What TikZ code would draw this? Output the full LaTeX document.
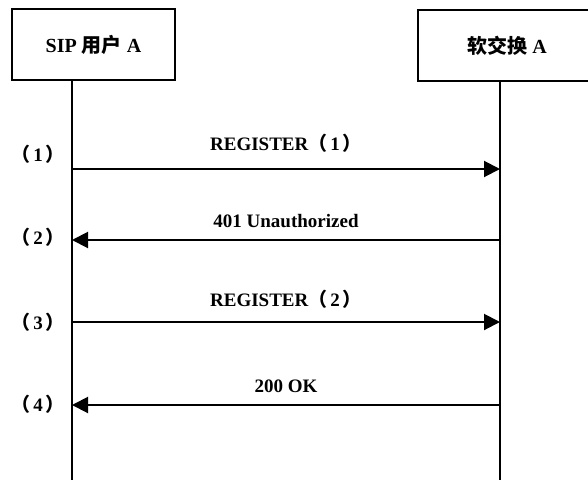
\documentclass[tikz,border=0pt]{standalone}
\usepackage{fontspec}
\setmainfont{Liberation Serif}
\newfontfamily\cjk{Noto Sans CJK SC}
\usetikzlibrary{arrows.meta}
\tikzstyle{line} = [draw, line width=2pt, -{Triangle[length=16pt,width=16pt]}]
\tikzstyle{life} = [draw, line width=1.8pt]
\tikzstyle{party} = [rectangle, draw, line width=2.6pt, minimum height=71pt, font=\fontsize{20}{24}\selectfont\bfseries]
\tikzstyle{msg} = [font=\fontsize{19}{23}\selectfont\bfseries, inner sep=0pt]
\newcommand{\fwp}[1]{{\cjk （}\kern3pt#1\kern3pt{\cjk ）}}

\begin{document}
\begin{tikzpicture}[x=1pt, y=-1pt]
	\clip (0,0) rectangle (588,479);
	\node [party, minimum width=163pt] (usera) at (93.5,44.5) {SIP {\cjk 用户} A};
	\node [party, minimum width=178pt] (softsw) at (507,45.5) {{\cjk 软交换} A};
	% lifelines
	\coordinate (ua top) at (72,80);
	\coordinate (ua end) at (72,482);
	\coordinate (ss top) at (500,81);
	\coordinate (ss end) at (500,482);
	\path [life] (ua top) -- (ua end);
	\path [life] (ss top) -- (ss end);
	% message points
	\coordinate (ua1) at (72,169);  \coordinate (ss1) at (500,169);
	\coordinate (ua2) at (72,240);  \coordinate (ss2) at (500,240);
	\coordinate (ua3) at (72,322);  \coordinate (ss3) at (500,322);
	\coordinate (ua4) at (72,405);  \coordinate (ss4) at (500,405);
	\path [line] (ua1) -- node [msg, above=16pt] (m1) {REGISTER\fwp{1}} (ss1);
	\path [line] (ss2) -- node [msg, above=11pt] (m2) {401 Unauthorized} (ua2);
	\path [line] (ua3) -- node [msg, above=13pt] (m3) {REGISTER\fwp{2}} (ss3);
	\path [line] (ss4) -- node [msg, above=11pt] (m4) {200 OK} (ua4);
	% step numbers
	\node [msg] (n1) at (38,154) {\fwp{1}};
	\node [msg] (n2) at (38,237) {\fwp{2}};
	\node [msg] (n3) at (38,322) {\fwp{3}};
	\node [msg] (n4) at (38,404) {\fwp{4}};
\end{tikzpicture}
\end{document}
